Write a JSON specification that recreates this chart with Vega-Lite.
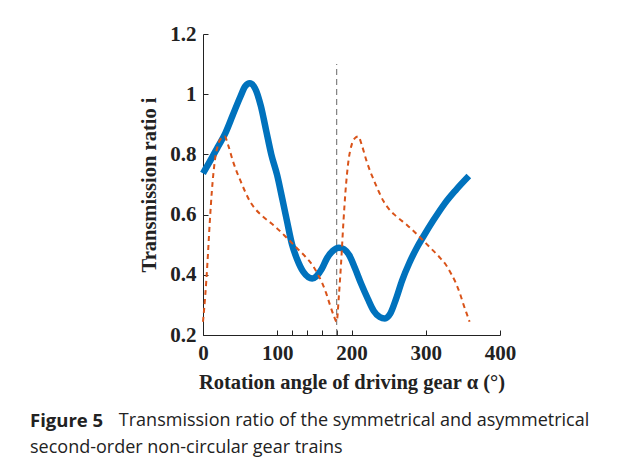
{
  "$schema": "https://vega.github.io/schema/vega-lite/v6.json",
  "width": 297,
  "height": 301,
  "autosize": {"type": "none"},
  "padding": {"left": 203, "top": 34, "right": 137, "bottom": 126},
  "background": "white",
  "config": {
    "view": {"stroke": null},
    "axis": {
      "domainColor": "#222222",
      "tickColor": "#222222",
      "tickSize": -5,
      "grid": false,
      "labelFlush": false,
      "labelFont": "Liberation Serif",
      "labelFontWeight": "bold",
      "labelFontSize": 21,
      "labelColor": "#222222",
      "titleFont": "Liberation Serif",
      "titleFontWeight": "bold",
      "titleFontSize": 20.5,
      "titleColor": "#222222"
    }
  },
  "title": {
    "text": "Figure 5",
    "subtitle": ["\u200b\u00a0\u00a0\u00a0\u00a0\u00a0\u00a0\u00a0\u00a0\u00a0\u00a0\u00a0\u00a0\u00a0\u00a0\u00a0\u00a0\u00a0\u00a0\u00a0Transmission ratio of the symmetrical and asymmetrical", "second-order non-circular gear trains"],
    "orient": "bottom",
    "anchor": "start",
    "frame": "group",
    "dx": -173,
    "offset": 19,
    "font": "Open Sans",
    "fontSize": 18.5,
    "fontWeight": "bold",
    "color": "#222222",
    "subtitleFont": "Open Sans",
    "subtitleFontSize": 18,
    "subtitleFontWeight": "normal",
    "subtitleColor": "#222222",
    "subtitleLineHeight": 27,
    "subtitlePadding": -18.5
  },
  "datasets": {
    "curves": [
      {"angle": 0, "ratio": 0.737, "series": "blue"},
      {"angle": 10, "ratio": 0.78, "series": "blue"},
      {"angle": 20, "ratio": 0.825, "series": "blue"},
      {"angle": 30, "ratio": 0.87, "series": "blue"},
      {"angle": 40, "ratio": 0.93, "series": "blue"},
      {"angle": 50, "ratio": 0.99, "series": "blue"},
      {"angle": 57, "ratio": 1.027, "series": "blue"},
      {"angle": 63, "ratio": 1.036, "series": "blue"},
      {"angle": 70, "ratio": 1.02, "series": "blue"},
      {"angle": 78, "ratio": 0.96, "series": "blue"},
      {"angle": 85, "ratio": 0.88, "series": "blue"},
      {"angle": 92, "ratio": 0.8, "series": "blue"},
      {"angle": 100, "ratio": 0.73, "series": "blue"},
      {"angle": 107, "ratio": 0.65, "series": "blue"},
      {"angle": 113, "ratio": 0.58, "series": "blue"},
      {"angle": 120, "ratio": 0.5, "series": "blue"},
      {"angle": 127, "ratio": 0.45, "series": "blue"},
      {"angle": 135, "ratio": 0.41, "series": "blue"},
      {"angle": 142, "ratio": 0.392, "series": "blue"},
      {"angle": 147, "ratio": 0.388, "series": "blue"},
      {"angle": 153, "ratio": 0.396, "series": "blue"},
      {"angle": 160, "ratio": 0.42, "series": "blue"},
      {"angle": 167, "ratio": 0.455, "series": "blue"},
      {"angle": 175, "ratio": 0.48, "series": "blue"},
      {"angle": 183, "ratio": 0.49, "series": "blue"},
      {"angle": 190, "ratio": 0.485, "series": "blue"},
      {"angle": 197, "ratio": 0.465, "series": "blue"},
      {"angle": 205, "ratio": 0.42, "series": "blue"},
      {"angle": 213, "ratio": 0.37, "series": "blue"},
      {"angle": 222, "ratio": 0.32, "series": "blue"},
      {"angle": 230, "ratio": 0.28, "series": "blue"},
      {"angle": 238, "ratio": 0.26, "series": "blue"},
      {"angle": 245, "ratio": 0.255, "series": "blue"},
      {"angle": 252, "ratio": 0.27, "series": "blue"},
      {"angle": 260, "ratio": 0.32, "series": "blue"},
      {"angle": 268, "ratio": 0.38, "series": "blue"},
      {"angle": 278, "ratio": 0.44, "series": "blue"},
      {"angle": 288, "ratio": 0.49, "series": "blue"},
      {"angle": 297, "ratio": 0.528, "series": "blue"},
      {"angle": 310, "ratio": 0.58, "series": "blue"},
      {"angle": 325, "ratio": 0.635, "series": "blue"},
      {"angle": 340, "ratio": 0.68, "series": "blue"},
      {"angle": 358, "ratio": 0.728, "series": "blue"},

      {"angle": 0, "ratio": 0.244, "series": "orange"},
      {"angle": 3, "ratio": 0.33, "series": "orange"},
      {"angle": 6, "ratio": 0.44, "series": "orange"},
      {"angle": 9, "ratio": 0.57, "series": "orange"},
      {"angle": 12, "ratio": 0.68, "series": "orange"},
      {"angle": 16, "ratio": 0.78, "series": "orange"},
      {"angle": 20, "ratio": 0.83, "series": "orange"},
      {"angle": 25, "ratio": 0.855, "series": "orange"},
      {"angle": 29, "ratio": 0.86, "series": "orange"},
      {"angle": 34, "ratio": 0.83, "series": "orange"},
      {"angle": 40, "ratio": 0.78, "series": "orange"},
      {"angle": 45, "ratio": 0.745, "series": "orange"},
      {"angle": 50, "ratio": 0.715, "series": "orange"},
      {"angle": 57, "ratio": 0.675, "series": "orange"},
      {"angle": 63, "ratio": 0.645, "series": "orange"},
      {"angle": 70, "ratio": 0.62, "series": "orange"},
      {"angle": 80, "ratio": 0.595, "series": "orange"},
      {"angle": 95, "ratio": 0.565, "series": "orange"},
      {"angle": 110, "ratio": 0.53, "series": "orange"},
      {"angle": 126, "ratio": 0.49, "series": "orange"},
      {"angle": 138, "ratio": 0.46, "series": "orange"},
      {"angle": 148, "ratio": 0.43, "series": "orange"},
      {"angle": 155, "ratio": 0.4, "series": "orange"},
      {"angle": 161, "ratio": 0.37, "series": "orange"},
      {"angle": 166, "ratio": 0.338, "series": "orange"},
      {"angle": 171, "ratio": 0.3, "series": "orange"},
      {"angle": 176, "ratio": 0.265, "series": "orange"},
      {"angle": 180, "ratio": 0.244, "series": "orange"},
      {"angle": 183, "ratio": 0.33, "series": "orange"},
      {"angle": 186, "ratio": 0.44, "series": "orange"},
      {"angle": 189, "ratio": 0.57, "series": "orange"},
      {"angle": 192, "ratio": 0.68, "series": "orange"},
      {"angle": 196, "ratio": 0.78, "series": "orange"},
      {"angle": 200, "ratio": 0.83, "series": "orange"},
      {"angle": 205, "ratio": 0.855, "series": "orange"},
      {"angle": 209, "ratio": 0.86, "series": "orange"},
      {"angle": 214, "ratio": 0.83, "series": "orange"},
      {"angle": 220, "ratio": 0.78, "series": "orange"},
      {"angle": 225, "ratio": 0.745, "series": "orange"},
      {"angle": 230, "ratio": 0.715, "series": "orange"},
      {"angle": 237, "ratio": 0.675, "series": "orange"},
      {"angle": 243, "ratio": 0.645, "series": "orange"},
      {"angle": 250, "ratio": 0.62, "series": "orange"},
      {"angle": 260, "ratio": 0.595, "series": "orange"},
      {"angle": 275, "ratio": 0.565, "series": "orange"},
      {"angle": 290, "ratio": 0.53, "series": "orange"},
      {"angle": 306, "ratio": 0.49, "series": "orange"},
      {"angle": 318, "ratio": 0.46, "series": "orange"},
      {"angle": 328, "ratio": 0.43, "series": "orange"},
      {"angle": 335, "ratio": 0.4, "series": "orange"},
      {"angle": 341, "ratio": 0.37, "series": "orange"},
      {"angle": 346, "ratio": 0.338, "series": "orange"},
      {"angle": 351, "ratio": 0.3, "series": "orange"},
      {"angle": 356, "ratio": 0.265, "series": "orange"},
      {"angle": 359, "ratio": 0.244, "series": "orange"}
    ],
    "marker": [{"angle": 180, "lo": 0.2, "hi": 1.1}]
  },
  "resolve": {"axis": {"x": "independent"}},
  "layer": [
    {
      "data": {"name": "marker"},
      "mark": {"type": "rule", "color": "#808080", "strokeWidth": 1.2, "strokeDash": [6, 4]},
      "encoding": {
        "x": {
          "field": "angle", "type": "quantitative",
          "axis": {"orient": "bottom", "values": [120, 140, 160, 180], "labels": false, "title": null, "domain": false}
        },
        "y": {"field": "lo", "type": "quantitative"},
        "y2": {"field": "hi"}
      }
    },
    {
      "data": {"name": "curves"},
      "transform": [{"filter": "datum.series === 'blue'"}],
      "mark": {"type": "line", "color": "#0072BD", "strokeWidth": 6.5, "interpolate": "monotone", "strokeCap": "butt"},
      "encoding": {
        "x": {"field": "angle", "type": "quantitative", "axis": null},
        "y": {"field": "ratio", "type": "quantitative"}
      }
    },
    {
      "data": {"name": "curves"},
      "transform": [{"filter": "datum.series === 'orange'"}],
      "mark": {"type": "line", "color": "#D95319", "strokeWidth": 2, "interpolate": "monotone", "strokeDash": [5, 4]},
      "encoding": {
        "x": {
          "field": "angle", "type": "quantitative",
          "scale": {"domain": [0, 400], "nice": false},
          "axis": {
            "orient": "bottom",
            "title": "Rotation angle of driving gear α (°)",
            "values": [0, 100, 200, 300, 400],
            "labelOverlap": false,
            "labelFlush": false,
            "labelPadding": 12,
            "titlePadding": 9
          }
        },
        "y": {
          "field": "ratio", "type": "quantitative",
          "scale": {"domain": [0.2, 1.2], "nice": false, "zero": false},
          "axis": {
            "title": "Transmission ratio i",
            "values": [0.2, 0.4, 0.6, 0.8, 1, 1.2],
            "format": "~g",
            "labelOverlap": false,
            "labelPadding": 12,
            "titlePadding": 10
          }
        }
      }
    }
  ]
}
